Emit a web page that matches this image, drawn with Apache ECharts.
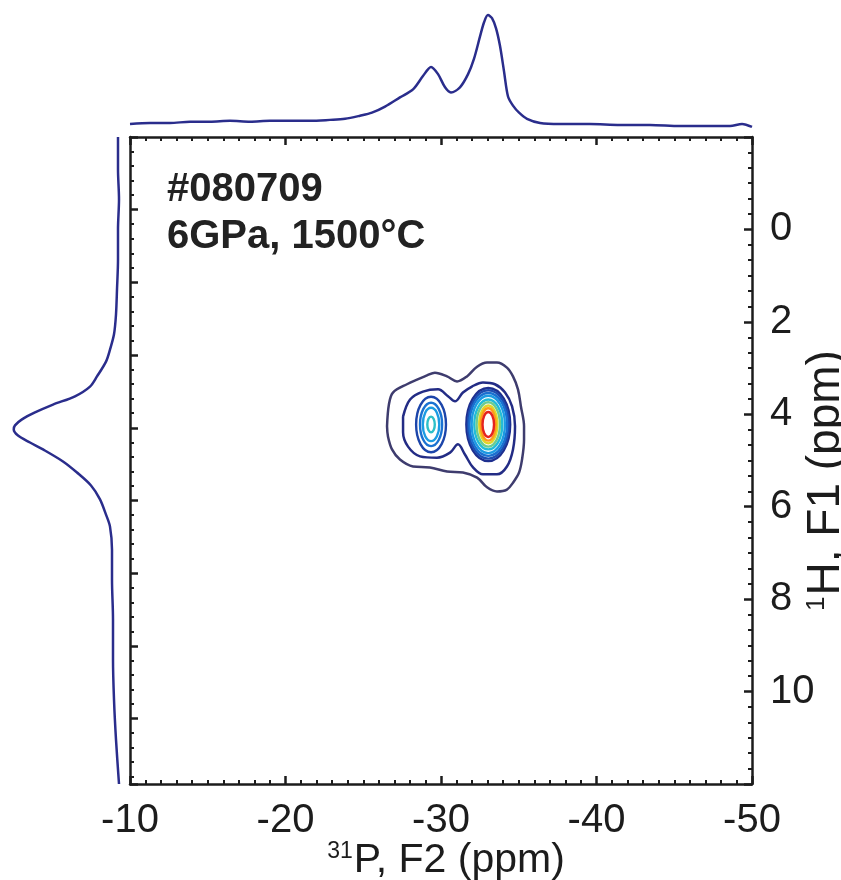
<!DOCTYPE html>
<html>
<head>
<meta charset="utf-8">
<script src="https://cdn.jsdelivr.net/npm/echarts@6/dist/echarts.min.js"></script>
<style>
  html, body { margin: 0; padding: 0; background: #fff; }
  #chart { width: 841px; height: 880px; }
</style>
</head>
<body>
<div id="chart"></div>
<script>
// 31P projection (top)
const topPpm = [-10, -11.29, -12.57, -13.86, -15.14, -16.43, -17.72, -19.0, -20.29, -21.58,
  -22.86, -23.83, -24.79, -25.56, -26.4, -27.36, -28.2, -28.84, -29.36, -29.81,
  -30.26, -30.64, -31.22, -31.74, -32.12, -32.51, -32.77, -33.02, -33.28, -33.54,
  -33.79, -34.05, -34.31, -34.63, -35.02, -35.53, -36.37, -37.65, -39.58, -41.51,
  -43.44, -45.37, -47.3, -48.59, -49.36, -50];
const topIntensity = [0.05, 0.058, 0.058, 0.067, 0.067, 0.075, 0.067, 0.075, 0.075, 0.075,
  0.083, 0.092, 0.117, 0.142, 0.192, 0.267, 0.333, 0.442, 0.517, 0.458,
  0.35, 0.308, 0.35, 0.458, 0.583, 0.767, 0.883, 0.942, 0.917, 0.833,
  0.692, 0.483, 0.275, 0.2, 0.142, 0.092, 0.058, 0.05, 0.05, 0.042,
  0.042, 0.033, 0.033, 0.033, 0.05, 0.025];

// 1H projection (left)
const leftPpm = [-2, -1.3, -0.65, 0, 0.65, 1.3, 1.84, 2.27, 2.6, 2.86,
  3.18, 3.4, 3.61, 3.79, 3.96, 4.11, 4.24, 4.33, 4.46, 4.61,
  4.76, 5.02, 5.26, 5.54, 5.84, 6.17, 6.43, 6.93, 7.58, 8.44,
  9.31, 10.17, 11.04, 12];
const leftIntensity = [0.056, 0.056, 0.048, 0.056, 0.056, 0.064, 0.072, 0.088, 0.12, 0.152,
  0.224, 0.28, 0.4, 0.576, 0.72, 0.824, 0.88, 0.89, 0.856, 0.76,
  0.656, 0.496, 0.384, 0.272, 0.2, 0.152, 0.12, 0.104, 0.104, 0.096,
  0.096, 0.088, 0.072, 0.048];

// lowest contour level
const outerX = [-26.53, -26.65, -26.91, -27.81, -29.1, -29.61, -30.39, -31.03, -31.67, -32.32,
  -32.96, -33.6, -34.24, -34.63, -34.95, -35.14, -35.34, -35.34, -35.21, -35.02,
  -34.63, -34.24, -33.6, -32.96, -32.32, -31.41, -30.39, -29.29, -28.2, -27.36,
  -26.85, -26.59];
const outerY = [4.26, 3.79, 3.53, 3.35, 3.16, 3.1, 3.18, 3.29, 3.18, 2.97,
  2.88, 2.88, 2.99, 3.18, 3.46, 3.83, 4.26, 4.55, 4.98, 5.26,
  5.48, 5.63, 5.67, 5.58, 5.37, 5.26, 5.24, 5.15, 5.13, 4.98,
  4.76, 4.48];

// second level (joins both peaks)
const waistX = [-27.56, -28.01, -28.84, -29.81, -30.45, -30.9, -31.41, -31.99, -32.7, -33.47,
  -34.12, -34.57, -34.76, -34.63, -34.24, -33.6, -32.7, -32.06, -31.54, -31.09,
  -30.58, -29.74, -28.65, -27.88, -27.56];
const waistY = [4.05, 3.68, 3.51, 3.46, 3.61, 3.72, 3.53, 3.4, 3.31, 3.35,
  3.53, 3.83, 4.26, 4.76, 5.13, 5.3, 5.3, 5.15, 4.87, 4.65,
  4.83, 4.94, 4.91, 4.7, 4.39];

// closed levels round each peak: centre, half-widths (ppm)
const rightPeak = [-33.04, 4.22];
const rightRx = [1.41, 1.31, 1.21, 1.07, 0.90, 0.75, 0.58, 0.48, 0.37];
const rightRy = [0.79, 0.74, 0.68, 0.62, 0.54, 0.48, 0.41, 0.35, 0.27];
const leftPeak = [-29.36, 4.22];
const leftRx = [0.96, 0.71, 0.53, 0.24];
const leftRy = [0.60, 0.47, 0.36, 0.17];

const rightColors = ['#1e2f8f', '#1c4cb0', '#1a70d0', '#1c9ae2', '#22bcd8',
  '#6ccc90', '#e0d628', '#ff9a1a', '#e52420'];
const leftColors = ['#1c45aa', '#1a72d2', '#1c9ce2', '#2ec0c8'];

const FONT = '"Liberation Sans", Arial, Helvetica, sans-serif';
const INK = '#1c1c1c';
const boxLine = { color: INK, width: 2.5 };

const chart = echarts.init(document.getElementById('chart'));

function contour(xs, ys, color) {
  const pts = xs.map((x, i) => [x, ys[i]]);
  pts.push([xs[0], ys[0]]);
  return {
    type: 'line', xAxisIndex: 0, yAxisIndex: 0, data: pts,
    smooth: 0.35, symbol: 'none', silent: true,
    lineStyle: { color: color, width: 2.5 }
  };
}

function rings(peak, rx, ry, colors) {
  return {
    type: 'custom', xAxisIndex: 0, yAxisIndex: 0, silent: true,
    data: rx.map((r, i) => [peak[0], peak[1], r, ry[i]]),
    renderItem: function (params, api) {
      const c = api.coord([api.value(0), api.value(1)]);
      const s = api.size([api.value(2), api.value(3)]);
      return {
        type: 'ellipse',
        shape: { cx: c[0], cy: c[1], rx: Math.abs(s[0]), ry: Math.abs(s[1]) },
        style: { fill: null, stroke: colors[params.dataIndex], lineWidth: 2.4 }
      };
    }
  };
}

const xNameRich = {
  s: { fontSize: 23, fontFamily: FONT, color: INK, padding: [0, 1, 17, 0] },
  n: { fontSize: 41, fontFamily: FONT, color: INK }
};
const yNameRich = {
  s: { fontSize: 26, fontFamily: FONT, color: INK, padding: [0, 1, 19, 0] },
  n: { fontSize: 46, fontFamily: FONT, color: INK }
};

const frameX = (pos, labels) => ({
  gridIndex: 0, type: 'value', min: -50, max: -10, interval: 10, inverse: true,
  position: pos,
  axisLine: { onZero: false, lineStyle: boxLine },
  axisTick: { inside: true, length: 8, lineStyle: boxLine },
  minorTick: { show: true, splitNumber: 10, length: 4, lineStyle: { color: INK, width: 2 } },
  splitLine: { show: false },
  axisLabel: { show: labels, fontSize: 40, fontFamily: FONT, color: INK, margin: 17 }
});

const option = {
  animation: false,
  backgroundColor: '#fff',
  grid: [
    { left: 130, top: 137, width: 622, height: 647, outerBoundsMode: 'none' },
    { left: 130, top: 8, width: 622, height: 122, outerBoundsMode: 'none' },
    { left: 0, top: 137, width: 125, height: 647, outerBoundsMode: 'none' }
  ],
  xAxis: [
    Object.assign(frameX('bottom', true), {
      name: '{s|31}{n|P, F2 (ppm)}',
      nameLocation: 'middle',
      nameGap: 56,
      nameMoveOverlap: false,
      nameTextStyle: { padding: [0, 0, 0, 10], rich: xNameRich }
    }),
    frameX('top', false),
    { gridIndex: 1, type: 'value', min: -50, max: -10, inverse: true, show: false },
    { gridIndex: 2, type: 'value', min: 0, max: 1, inverse: true, show: false }
  ],
  yAxis: [
    {
      gridIndex: 0, type: 'value', min: -2, max: 12, interval: 2, inverse: true,
      position: 'right',
      axisLine: { onZero: false, lineStyle: boxLine },
      axisTick: { inside: true, length: 8, lineStyle: boxLine },
      minorTick: { show: true, splitNumber: 6, length: 4, lineStyle: { color: INK, width: 2 } },
      splitLine: { show: false },
      axisLabel: {
        fontSize: 40, fontFamily: FONT, color: INK, margin: 18,
        showMinLabel: false, showMaxLabel: false
      },
      name: '{s|1}{n|H, F1 (ppm)}',
      nameLocation: 'middle',
      nameRotate: 90,
      nameGap: 51,
      nameMoveOverlap: false,
      nameTextStyle: { padding: [0, 40, 0, 0], rich: yNameRich }
    },
    {
      gridIndex: 0, type: 'value', min: 0, max: 8.9, interval: 1, inverse: true,
      position: 'left',
      axisLine: { onZero: false, lineStyle: boxLine },
      axisTick: { inside: true, length: 8, lineStyle: boxLine },
      minorTick: { show: true, splitNumber: 5, length: 4, lineStyle: { color: INK, width: 2 } },
      splitLine: { show: false },
      axisLabel: { show: false }
    },
    { gridIndex: 1, type: 'value', min: 0, max: 1, show: false },
    { gridIndex: 2, type: 'value', min: -2, max: 12, inverse: true, show: false }
  ],
  graphic: [{
    type: 'text', left: 167, top: 166,
    style: {
      text: '#080709\n6GPa, 1500°C',
      fontSize: 40, fontWeight: 'bold', fontFamily: FONT,
      fill: '#222', lineHeight: 47
    }
  }],
  series: [
    {
      type: 'line', xAxisIndex: 2, yAxisIndex: 2,
      data: topPpm.map((p, i) => [p, topIntensity[i]]),
      smooth: 0.3, symbol: 'none', silent: true,
      lineStyle: { color: '#2a2d8c', width: 2.5 }
    },
    {
      type: 'line', xAxisIndex: 3, yAxisIndex: 3,
      data: leftPpm.map((p, i) => [leftIntensity[i], p]),
      smooth: 0.3, symbol: 'none', silent: true,
      lineStyle: { color: '#2a2d8c', width: 2.5 }
    },
    contour(outerX, outerY, '#3e3c6e'),
    contour(waistX, waistY, '#232c85'),
    rings(leftPeak, leftRx, leftRy, leftColors),
    rings(rightPeak, rightRx, rightRy, rightColors)
  ]
};

chart.setOption(option);
</script>
</body>
</html>
